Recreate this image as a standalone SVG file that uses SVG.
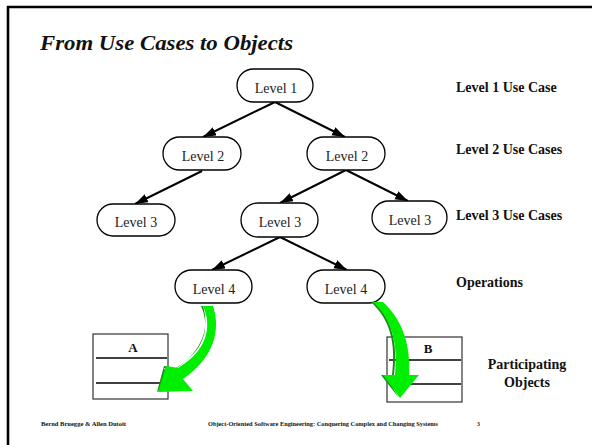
<svg xmlns="http://www.w3.org/2000/svg" width="592" height="445" viewBox="0 0 592 445">
<style>
.node rect{fill:#fff;stroke:#000;stroke-width:1.3}
.node text{font-family:"Liberation Serif","DejaVu Serif",serif;font-size:14px;text-anchor:middle;fill:#222}
.title{font-family:"Liberation Serif","DejaVu Serif",serif;font-size:21px;font-weight:bold;font-style:italic;fill:#111}
.lbl{font-family:"Liberation Serif","DejaVu Serif",serif;font-size:14px;font-weight:bold;fill:#111}
.foot{font-family:"Liberation Serif","DejaVu Serif",serif;font-size:5.8px;font-weight:bold;fill:#111}
.edge{stroke:#000;stroke-width:2;fill:none;marker-end:url(#ah)}
.cls rect{fill:#fff;stroke:#333;stroke-width:1.2}
.cls line{stroke:#000;stroke-width:1.3}
.cls text{font-family:"Liberation Serif","DejaVu Serif",serif;font-size:13px;font-weight:bold;text-anchor:middle;fill:#111}
.gshadow{fill:#1a8a1a}
.garrow{fill:#00ee00}
</style>
<defs>
<marker id="ah" markerUnits="userSpaceOnUse" markerWidth="14" markerHeight="10" refX="13" refY="4.5" orient="auto">
<path d="M0,0 L13,4.5 L0,9 z" fill="#000"/>
</marker>
</defs>
<rect width="592" height="445" fill="#fff"/>
<g id="frame">
<line x1="7" y1="7" x2="592" y2="7" stroke="#000" stroke-width="2.6"/>
<line x1="8" y1="6" x2="8" y2="445" stroke="#000" stroke-width="2.6"/>
</g>
<text class="title" x="40" y="50" textLength="253" lengthAdjust="spacingAndGlyphs">From Use Cases to Objects</text>

<g id="connectors">
<line class="edge" x1="275" y1="102" x2="203" y2="137"/>
<line class="edge" x1="275" y1="102" x2="345" y2="137"/>
<line class="edge" x1="202" y1="171" x2="135" y2="204"/>
<line class="edge" x1="346" y1="170" x2="280" y2="203"/>
<line class="edge" x1="346" y1="170" x2="408" y2="201"/>
<line class="edge" x1="280" y1="237" x2="212" y2="270"/>
<line class="edge" x1="280" y1="237" x2="347" y2="270"/>
</g>

<g id="n1" class="node"><rect x="237" y="69" width="76" height="33" rx="16.5"/><text x="276" y="93">Level 1</text></g>
<g id="n2a" class="node"><rect x="163" y="137" width="78" height="33" rx="16.5"/><text x="203" y="161">Level 2</text></g>
<g id="n2b" class="node"><rect x="307" y="137" width="78" height="33" rx="16.5"/><text x="347" y="161">Level 2</text></g>
<g id="n3a" class="node"><rect x="97" y="204" width="78" height="32" rx="16"/><text x="136" y="227">Level 3</text></g>
<g id="n3b" class="node"><rect x="241" y="203" width="77" height="34" rx="17"/><text x="280" y="227">Level 3</text></g>
<g id="n3c" class="node"><rect x="372" y="201" width="75" height="33" rx="16.5"/><text x="410" y="225">Level 3</text></g>
<g id="n4a" class="node"><rect x="175" y="270" width="77" height="33" rx="16.5"/><text x="214" y="294">Level 4</text></g>
<g id="n4b" class="node"><rect x="307" y="270" width="78" height="33" rx="16.5"/><text x="346" y="294">Level 4</text></g>

<g id="clsA" class="cls">
<rect x="93" y="334" width="75" height="65"/>
<line x1="96" y1="358" x2="167" y2="358"/>
<line x1="96" y1="383" x2="167" y2="383"/>
<text x="133" y="352">A</text>
</g>
<g id="clsB" class="cls">
<rect x="387" y="337" width="75" height="65"/>
<line x1="389" y1="360" x2="461" y2="360"/>
<line x1="389" y1="384" x2="461" y2="384"/>
<text x="428" y="353">B</text>
</g>

<g id="greenA">
<path class="gshadow" d="M201,306 C210,326 206,350 176,368 L164,366 L157,392 L170,380 L164,368 L174,370 C205,350 209,326 203,306 Z"/>
<path class="garrow" d="M203,306 C212,326 208,350 178,368 L166,366 L158,392 L193,391 L183,379 C214,358 221,330 213,306 Z"/>
</g>
<g id="greenB">
<path class="gshadow" d="M371,302 C390,320 396,342 392,375 L381,375 L399,398 L385,375 L394,375 C398,342 392,320 374,302 Z"/>
<path class="garrow" d="M373,302 C392,320 398,342 395,375 L383,375 L400,398 L419,375 L409,375 C411,340 400,318 383,302 Z"/>
</g>

<text class="lbl" x="456" y="92">Level 1 Use Case</text>
<text class="lbl" x="456" y="154">Level 2 Use Cases</text>
<text class="lbl" x="456" y="220">Level 3 Use Cases</text>
<text class="lbl" x="456" y="287">Operations</text>
<text class="lbl" x="527" y="369" text-anchor="middle">Participating</text>
<text class="lbl" x="527" y="387" text-anchor="middle">Objects</text>

<text class="foot" x="41" y="426" textLength="85" lengthAdjust="spacingAndGlyphs">Bernd Bruegge &amp; Allen Dutoit</text>
<text class="foot" x="208" y="426" textLength="230" lengthAdjust="spacingAndGlyphs">Object-Oriented Software Engineering: Conquering Complex and Changing Systems</text>
<text class="foot" x="477" y="426">3</text>
</svg>
